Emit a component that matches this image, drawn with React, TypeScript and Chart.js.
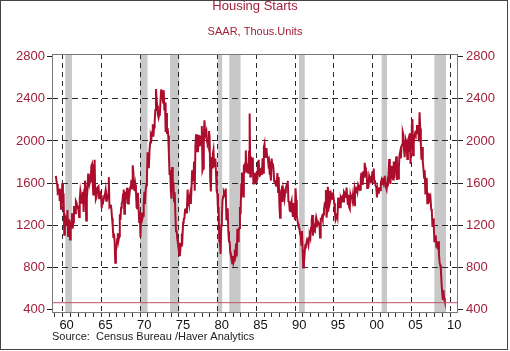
import { useEffect, useRef } from 'react';
import { Chart, registerables } from 'chart.js';

Chart.register(...registerables);

// ---- Data ----
const startYear = 1959; // first monthly observation: Jan 1959
// Housing starts, SAAR, thousands of units (monthly, Jan 1959 - Apr 2009)
const housingStarts: number[] = [
  // 1959
  1657, 1667, 1620, 1590, 1498, 1503, 1547, 1430, 1540, 1355, 1416, 1601,
  // 1960
  1460, 1503, 1109, 1289, 1271, 1247, 1197, 1344, 1097, 1246, 1246, 1063,
  // 1961
  1183, 1226, 1312, 1166, 1228, 1382, 1335, 1312, 1429, 1415, 1385, 1365,
  // 1962
  1361, 1278, 1443, 1524, 1483, 1404, 1450, 1517, 1324, 1533, 1622, 1564,
  // 1963
  1244, 1456, 1534, 1689, 1641, 1588, 1614, 1639, 1763, 1779, 1622, 1491,
  // 1964
  1603, 1820, 1517, 1448, 1467, 1550, 1562, 1569, 1455, 1524, 1486, 1484,
  // 1965
  1361, 1433, 1423, 1438, 1478, 1488, 1529, 1432, 1482, 1452, 1460, 1656,
  // 1966
  1370, 1378, 1394, 1352, 1265, 1194, 1086, 1119, 1046, 843, 961, 990,
  // 1967
  1067, 1123, 1056, 1091, 1304, 1248, 1364, 1407, 1421, 1491, 1538, 1308,
  // 1968
  1380, 1520, 1466, 1554, 1408, 1405, 1512, 1495, 1556, 1569, 1630, 1548,
  // 1969
  1769, 1705, 1561, 1524, 1583, 1528, 1368, 1358, 1507, 1381, 1229, 1327,
  // 1970
  1085, 1305, 1319, 1264, 1290, 1385, 1517, 1399, 1534, 1580, 1647, 1893,
  // 1971
  1828, 1741, 1910, 1986, 2049, 2026, 2083, 2158, 2041, 2128, 2182, 2295,
  // 1972
  2494, 2390, 2334, 2249, 2221, 2254, 2252, 2382, 2481, 2485, 2421, 2366,
  // 1973
  2481, 2289, 2365, 2084, 2266, 2067, 2123, 2051, 1874, 1677, 1724, 1526,
  // 1974
  1451, 1752, 1555, 1607, 1426, 1513, 1316, 1142, 1150, 1070, 1026, 975,
  // 1975
  1032, 904, 993, 1005, 1121, 1087, 1226, 1260, 1264, 1344, 1360, 1321,
  // 1976
  1367, 1538, 1421, 1395, 1459, 1495, 1401, 1550, 1720, 1629, 1641, 1804,
  // 1977
  1527, 1943, 2063, 1892, 1971, 1893, 2058, 2020, 1949, 2042, 2042, 2142,
  // 1978
  1718, 1738, 2032, 2197, 2075, 2070, 2092, 1996, 1970, 1981, 2094, 2044,
  // 1979
  1630, 1520, 1847, 1748, 1876, 1913, 1760, 1778, 1832, 1681, 1524, 1498,
  // 1980
  1341, 1350, 1047, 1051, 927, 1196, 1269, 1436, 1471, 1523, 1510, 1482,
  // 1981
  1547, 1246, 1306, 1360, 1140, 1045, 1041, 940, 911, 873, 837, 910,
  // 1982
  843, 866, 931, 917, 1025, 902, 1166, 1046, 1144, 1173, 1372, 1303,
  // 1983
  1586, 1699, 1606, 1472, 1776, 1733, 1785, 1910, 1710, 1715, 1785, 1688,
  // 1984
  1897, 2260, 1663, 1851, 1774, 1843, 1732, 1586, 1698, 1590, 1689, 1612,
  // 1985
  1711, 1632, 1800, 1821, 1680, 1676, 1684, 1743, 1676, 1834, 1698, 1942,
  // 1986
  1972, 1848, 1876, 1933, 1854, 1847, 1782, 1807, 1687, 1681, 1623, 1833,
  // 1987
  1774, 1784, 1726, 1614, 1628, 1594, 1575, 1605, 1695, 1515, 1656, 1400,
  // 1988
  1271, 1473, 1532, 1573, 1421, 1541, 1509, 1455, 1512, 1551, 1576, 1564,
  // 1989
  1621, 1425, 1422, 1339, 1331, 1397, 1427, 1332, 1279, 1410, 1351, 1251,
  // 1990
  1551, 1437, 1289, 1248, 1212, 1177, 1171, 1115, 1110, 1014, 1145, 969,
  // 1991
  798, 965, 921, 1001, 996, 1036, 1063, 1049, 1015, 1079, 1103, 1079,
  // 1992
  1176, 1250, 1297, 1099, 1214, 1145, 1139, 1226, 1186, 1244, 1214, 1227,
  // 1993
  1210, 1210, 1083, 1258, 1260, 1280, 1254, 1300, 1343, 1392, 1376, 1533,
  // 1994
  1272, 1337, 1564, 1465, 1526, 1409, 1439, 1450, 1474, 1450, 1511, 1455,
  // 1995
  1407, 1316, 1249, 1267, 1314, 1281, 1461, 1416, 1369, 1369, 1452, 1431,
  // 1996
  1467, 1491, 1424, 1516, 1504, 1467, 1472, 1557, 1475, 1392, 1489, 1370,
  // 1997
  1355, 1486, 1457, 1492, 1442, 1494, 1437, 1390, 1546, 1520, 1510, 1566,
  // 1998
  1525, 1584, 1567, 1540, 1536, 1641, 1698, 1614, 1582, 1715, 1660, 1792,
  // 1999
  1748, 1670, 1710, 1553, 1611, 1559, 1669, 1648, 1635, 1608, 1648, 1708,
  // 2000
  1636, 1737, 1604, 1626, 1575, 1559, 1463, 1541, 1507, 1549, 1551, 1532,
  // 2001
  1600, 1625, 1590, 1649, 1605, 1636, 1670, 1567, 1562, 1540, 1602, 1568,
  // 2002
  1698, 1829, 1642, 1592, 1764, 1717, 1655, 1633, 1804, 1648, 1753, 1788,
  // 2003
  1853, 1629, 1726, 1643, 1751, 1867, 1897, 1833, 1939, 1967, 2083, 2057,
  // 2004
  1911, 1846, 1998, 2003, 1981, 1828, 2002, 2024, 1905, 2072, 1782, 2042,
  // 2005
  2144, 2207, 1864, 2061, 2025, 2068, 2054, 2095, 2151, 2065, 2147, 1994,
  // 2006
  2273, 2119, 1969, 1821, 1942, 1802, 1737, 1650, 1720, 1491, 1570, 1649,
  // 2007
  1409, 1480, 1495, 1490, 1415, 1448, 1354, 1330, 1183, 1264, 1197, 1037,
  // 2008
  1084, 1103, 1005, 1013, 973, 1046, 923, 844, 820, 777, 652, 560,
  // 2009
  490, 582, 505, 478,
];

// Recession shading (start, end in decimal years)
const recessionStarts: number[] = [1960.35, 1970.0, 1973.85, 1980.0, 1981.5, 1990.5, 2001.15, 2007.95];
const recessionEnds: number[] = [1961.2, 1970.95, 1975.05, 1980.58, 1982.95, 1991.23, 2001.85, 2009.45];

// Horizontal reference level (latest reading line)
const referenceLevel = 463;

// Axes
const yTicks: number[] = [400, 800, 1200, 1600, 2000, 2400, 2800];
const yMin = 365;
const yMax = 2826;
const xMin = 1958.63;
const xMax = 2011.0;
const xMinorYears: number[] = Array.from({ length: 52 }, (_, i) => 1959 + i); // 1959..2010
const xLabelYears: number[] = [1960, 1965, 1970, 1975, 1980, 1985, 1990, 1995, 2000, 2005, 2010];
const xLabelTexts: string[] = ['60', '65', '70', '75', '80', '85', '90', '95', '00', '05', '10'];

const titleText = 'Housing Starts';
const subtitleText = 'SAAR, Thous.Units';
const sourceText = 'Source:  Census Bureau /Haver Analytics';

const FONT = "'Liberation Sans', Arial, sans-serif";
const RED_TEXT = '#a3203d';
const LINE_RED = '#ad0d2c';

const recessionPlugin = {
  id: 'recessions',
  beforeDraw(chart: any) {
    const { ctx, chartArea, scales } = chart;
    const x = scales.x;
    ctx.save();
    ctx.fillStyle = '#c8c8c8';
    for (let i = 0; i < recessionStarts.length; i++) {
      const x0 = x.getPixelForValue(recessionStarts[i]);
      const x1 = x.getPixelForValue(recessionEnds[i]);
      ctx.fillRect(x0, chartArea.top, x1 - x0, chartArea.bottom - chartArea.top);
    }
    ctx.restore();
  },
};

const framePlugin = {
  id: 'frame',
  afterDatasetsDraw(chart: any) {
    const { ctx, chartArea } = chart;
    ctx.save();
    ctx.strokeStyle = '#7a7a7a';
    ctx.lineWidth = 1;
    ctx.strokeRect(
      Math.round(chartArea.left) + 0.5,
      Math.round(chartArea.top) + 0.5,
      Math.round(chartArea.right - chartArea.left) - 1,
      Math.round(chartArea.bottom - chartArea.top) - 1
    );
    ctx.restore();
  },
};

export default function App() {
  const canvasRef = useRef<HTMLCanvasElement | null>(null);

  useEffect(() => {
    if (!canvasRef.current) return;
    const points = housingStarts.map((v, i) => ({ x: startYear + i / 12 + 1 / 24, y: v }));
    const refLine = [
      { x: xMin, y: referenceLevel },
      { x: xMax, y: referenceLevel },
    ];

    const chart = new Chart(canvasRef.current, {
      type: 'line',
      data: {
        datasets: [
          {
            data: refLine,
            borderColor: '#c25066',
            borderWidth: 1,
            pointRadius: 0,
            tension: 0,
          },
          {
            data: points,
            borderColor: LINE_RED,
            borderWidth: 2,
            pointRadius: 0,
            tension: 0,
          },
        ],
      },
      plugins: [recessionPlugin, framePlugin],
      options: {
        animation: false,
        responsive: false,
        devicePixelRatio: 1,
        layout: { padding: 0 },
        plugins: {
          legend: { display: false },
          tooltip: { enabled: false },
          title: {
            display: true,
            text: titleText,
            color: RED_TEXT,
            font: { family: FONT, size: 13, weight: 'normal', lineHeight: 1 },
            padding: { top: 0, bottom: 13.5 },
          },
          subtitle: {
            display: true,
            text: subtitleText,
            color: RED_TEXT,
            font: { family: FONT, size: 11, weight: 'normal', lineHeight: 1 },
            padding: { top: 0, bottom: 16.5 },
          },
        },
        scales: {
          x: {
            type: 'linear',
            position: 'bottom',
            min: xMin,
            max: xMax,
            afterBuildTicks: (scale: any) => {
              scale.ticks = xMinorYears.map((v) => ({ value: v }));
            },
            afterFit: (scale: any) => {
              scale.height = 38;
            },
            ticks: {
              autoSkip: false,
              maxRotation: 0,
              minRotation: 0,
              padding: 1,
              labelOffset: 4,
              color: '#111',
              font: { family: FONT, size: 13 },
              callback: (value: any) => {
                const idx = xLabelYears.indexOf(Number(value));
                return idx >= 0 ? xLabelTexts[idx] : '';
              },
            },
            grid: {
              drawOnChartArea: true,
              drawTicks: true,
              tickLength: 4,
              tickColor: '#333',
              tickBorderDash: [],
              lineWidth: 1,
              color: (ctx: any) =>
                ctx.tick && xLabelYears.indexOf(ctx.tick.value) >= 0 ? '#2a2a2a' : 'rgba(0,0,0,0)',
            },
            border: { display: false, dash: [5, 4] },
            title: {
              display: true,
              text: sourceText,
              align: 'start',
              color: '#222',
              font: { family: FONT, size: 11 },
              padding: { top: 0, bottom: 7 },
            },
          },
          y: {
            type: 'linear',
            position: 'left',
            min: yMin,
            max: yMax,
            afterBuildTicks: (scale: any) => {
              scale.ticks = yTicks.map((v) => ({ value: v }));
            },
            afterFit: (scale: any) => {
              scale.width = 52;
            },
            ticks: {
              padding: 2,
              color: RED_TEXT,
              font: { family: FONT, size: 13 },
              callback: (v: any) => String(v),
            },
            grid: {
              drawOnChartArea: true,
              drawTicks: true,
              tickLength: 5,
              tickColor: '#222',
              tickBorderDash: [],
              color: (ctx: any) =>
                ctx.tick && ctx.tick.value > 400 && ctx.tick.value < 2800 ? '#2a2a2a' : 'rgba(0,0,0,0)',
            },
            border: { display: false, dash: [6, 4] },
          },
          y2: {
            type: 'linear',
            position: 'right',
            min: yMin,
            max: yMax,
            afterBuildTicks: (scale: any) => {
              scale.ticks = yTicks.map((v) => ({ value: v }));
            },
            afterFit: (scale: any) => {
              scale.width = 52;
            },
            ticks: {
              padding: 3,
              color: RED_TEXT,
              font: { family: FONT, size: 13 },
              callback: (v: any) => String(v),
            },
            grid: {
              drawOnChartArea: false,
              drawTicks: true,
              tickLength: 5,
              tickColor: '#222',
            },
            border: { display: false },
          },
        },
      },
    } as any);

    return () => {
      chart.destroy();
    };
  }, []);

  return (
    <div style={{ position: 'absolute', left: 0, top: 0, width: 510, height: 351, background: '#fff' }}>
      <canvas ref={canvasRef} width={510} height={351} style={{ position: 'absolute', left: 0, top: 0 }} />
      <div
        style={{
          position: 'absolute',
          left: 0,
          top: 0,
          width: 508,
          height: 350,
          boxSizing: 'border-box',
          border: '1px solid #444',
          pointerEvents: 'none',
        }}
      />
    </div>
  );
}
